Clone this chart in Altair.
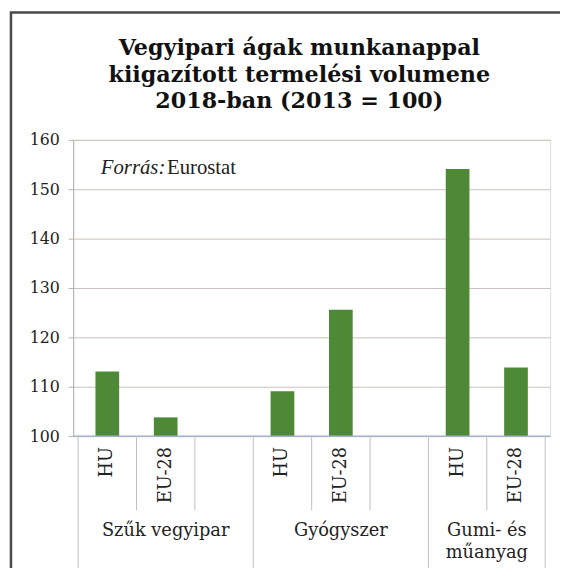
import altair as alt
import pandas as pd

# ---- data ----
groups = ["Szűk vegyipar", "Gyógyszer", "Gumi- és műanyag"]
group_labels = ["Szűk vegyipar", "Gyógyszer", "Gumi- és\nműanyag"]
group_slots = [3, 3, 2]
series = ["HU", "EU-28"]
hu_values = [113.1, 109.1, 154.1]
eu_values = [103.8, 125.6, 113.9]
y_ticks = [100, 110, 120, 130, 140, 150, 160]
title_text = "Vegyipari ágak munkanappal\nkiigazított termelési volumene\n2018-ban (2013 = 100)"
source_italic = "Forrás:"
source_plain = "Eurostat"

bars, group_rows, bounds, inner = [], [], [], []
start = 0
for g, lab, n, hu, eu in zip(groups, group_labels, group_slots, hu_values, eu_values):
    for k, (s, v) in enumerate(zip(series, [hu, eu])):
        bars.append({"group": g, "series": s, "pos": start + k + 0.5, "value": v})
    group_rows.append({"label": lab, "pos": start + n / 2})
    bounds.append({"pos": start})
    for k in range(1, n):
        inner.append({"pos": start + k})
    start += n
bounds.append({"pos": start})

bars_df = pd.DataFrame(bars)
groups_df = pd.DataFrame(group_rows)
bounds_df = pd.DataFrame(bounds)
inner_df = pd.DataFrame(inner)
one = alt.Data(values=[{"a": 1}])

xs = alt.Scale(domain=[0, start], nice=False, zero=False)
ys = alt.Scale(domain=[100, 160], nice=False, zero=False)
SEP = "#c4bdbd"
SERIF = "DejaVu Serif"
INK = "#222222"

frame = alt.Chart(one).mark_rect(fill=None, stroke="#4a4a4a", strokeWidth=2.5).encode(
    x=alt.value(-63), x2=alt.value(640), y=alt.value(-129), y2=alt.value(560)
)

title = alt.Chart(one).mark_text(
    align="center", baseline="middle", font=SERIF, fontSize=22.5, fontWeight="bold",
    lineBreak="\n", lineHeight=27, color="#111111"
).encode(x=alt.value(229), y=alt.value(-93), text=alt.value(title_text))

bar_layer = alt.Chart(bars_df).mark_bar(width=24, color="#4e8a36").encode(
    x=alt.X("pos:Q", scale=xs, axis=None),
    y=alt.Y("value:Q", scale=ys, title=None,
            axis=alt.Axis(values=y_ticks, grid=True, gridColor="#cbc0bb",
                          domainColor="#b5adad", tickColor="#b5adad", tickSize=5,
                          labelPadding=9, labelFont=SERIF, labelFontSize=16,
                          labelColor=INK)),
    y2=alt.datum(100),
)

baseline = alt.Chart(one).mark_rule(color="#9aaccc", strokeWidth=1.2).encode(
    y=alt.Y(datum=100, scale=ys)
)

group_sep = alt.Chart(bounds_df).mark_rule(color=SEP).encode(
    x=alt.X("pos:Q", scale=xs), y=alt.value(300), y2=alt.value(450)
)
inner_sep = alt.Chart(inner_df).mark_rule(color=SEP).encode(
    x=alt.X("pos:Q", scale=xs), y=alt.value(300), y2=alt.value(375)
)

cat_labels = alt.Chart(bars_df).mark_text(
    angle=270, align="right", baseline="middle", font=SERIF, fontSize=18, color=INK
).encode(x=alt.X("pos:Q", scale=xs), y=alt.value(311), text="series:N")

grp_labels = alt.Chart(groups_df).mark_text(
    align="center", baseline="alphabetic", font=SERIF, fontSize=18, color=INK,
    lineBreak="\n", lineHeight=22.5
).encode(x=alt.X("pos:Q", scale=xs), y=alt.value(401), text="label:N")

src1 = alt.Chart(one).mark_text(
    align="left", baseline="middle", font="Liberation Serif", fontSize=21,
    fontStyle="italic", color="#222222"
).encode(x=alt.value(28), y=alt.value(29), text=alt.value(source_italic))
src2 = alt.Chart(one).mark_text(
    align="left", baseline="middle", font="Liberation Serif", fontSize=21, color="#222222"
).encode(x=alt.value(95), y=alt.value(29), text=alt.value(source_plain))

chart = alt.layer(
    frame, title, bar_layer, baseline, group_sep, inner_sep, cat_labels, grp_labels, src1, src2
).properties(
    width=483, height=300,
    autosize=alt.AutoSizeParams(type="none"),
    padding={"left": 66, "top": 130, "right": 10, "bottom": 130},
).configure_view(stroke=SEP).configure(background="white")

chart.save("out.html", embed_options={"renderer": "svg", "actions": False})
